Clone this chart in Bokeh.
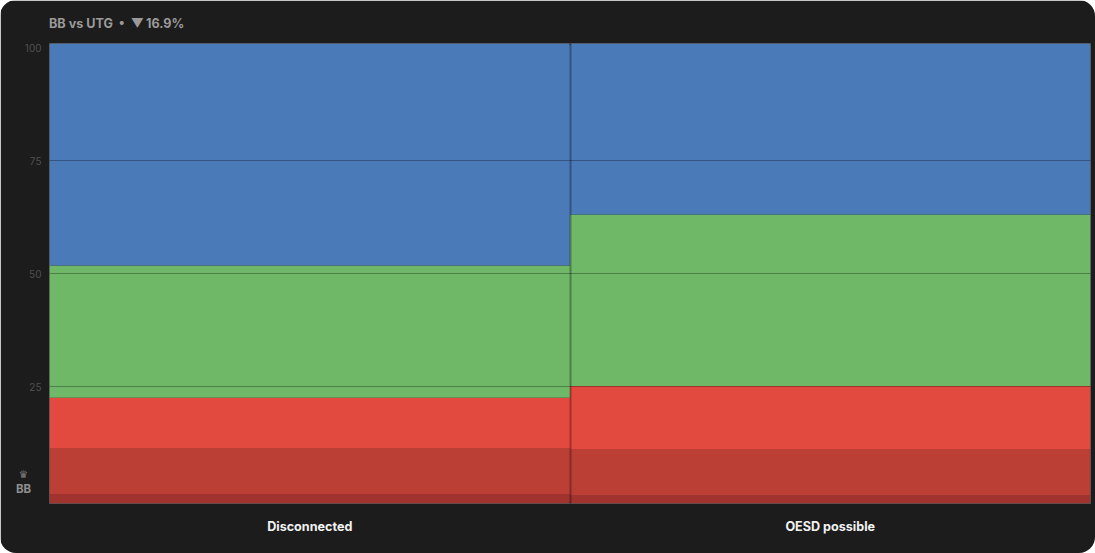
from bokeh.plotting import figure
from bokeh.embed import file_html
from bokeh.resources import INLINE
from bokeh.models import Range1d, FixedTicker, Label, LinearAxis, Grid

categories = ["Disconnected", "OESD possible"]
y_ticks = [25, 50, 75, 100]
y_grid = [25, 50, 75]
y_min = -0.88
y_max = 100.89
# cumulative band limits
limit_darkest = [1.2, 1.0]
limit_dark = [11.4, 11.2]
limit_red = [22.5, 25.1]
limit_green = [51.8, 63.05]
band_colors = ["#a0332d", "#bb3f34", "#e2493f", "#6eb867", "#4a7ab8"]
title_left = "BB vs UTG\u00a0\u00a0•\u00a0\u00a0▼"
title_pct = "16.9%"
crown_icon = "♛"
player = "BB"

BG = "#1c1c1c"
W, H = 1095, 553
FL, FT, FB = 49, 43, 503
HEADER_H = 15

p = figure(width=W, height=H, output_backend="svg", toolbar_location=None,
           x_range=Range1d(0, len(categories)), y_range=Range1d(y_min, y_max),
           min_border_left=FL, min_border_right=5, min_border_top=FT, min_border_bottom=H - FB,
           background_fill_color=BG, border_fill_color=BG, outline_line_color=None,
           x_axis_type=None, y_axis_type=None)
p.styles = {"border-radius": "16px", "overflow": "hidden"}

xs = [i + 0.5 for i in range(len(categories))]
n = len(categories)
bottoms = [[y_min] * n, limit_darkest, limit_dark, limit_red, limit_green]
tops = [limit_darkest, limit_dark, limit_red, limit_green, [y_max] * n]
radii = [(0, 0, 2, 2), 0, 0, 0, (2, 2, 0, 0)]
for b, t, c, r in zip(bottoms, tops, band_colors, radii):
    p.vbar(x=xs, width=1.0, bottom=b, top=t, fill_color=c, line_color=None, border_radius=r)

xax = LinearAxis(ticker=FixedTicker(ticks=xs),
                 major_label_overrides={x: c for x, c in zip(xs, categories)})
xax.axis_line_color = None
xax.major_tick_line_color = None
xax.minor_tick_line_color = None
xax.major_label_text_color = "#f2f2f2"
xax.major_label_text_font = "Inter"
xax.major_label_text_font_style = "bold"
xax.major_label_text_font_size = "12.6px"
xax.major_label_standoff = 9
p.add_layout(xax, "below")

yax = LinearAxis(ticker=FixedTicker(ticks=y_ticks))
yax.axis_line_color = None
yax.major_tick_line_color = None
yax.minor_tick_line_color = None
yax.major_label_text_color = "#505050"
yax.major_label_text_font = "Inter"
yax.major_label_text_font_size = "10px"
yax.major_label_standoff = 2
p.add_layout(yax, "left")

hg = Grid(dimension=1, ticker=FixedTicker(ticks=y_grid), grid_line_color="#000000",
          grid_line_alpha=0.3, grid_line_width=1, level="overlay")
vg = Grid(dimension=0, ticker=FixedTicker(ticks=[1]), grid_line_color="#000000",
          grid_line_alpha=0.3, grid_line_width=2, level="overlay")
p.add_layout(hg)
p.add_layout(vg)

def sx(x):
    return x - FL

def lab(text, x, y, panel_bottom, color, size, side="above", align="left", font="Inter"):
    p.add_layout(Label(x=sx(x), y=panel_bottom - y, x_units="screen", y_units="screen", text=text,
                       text_color=color, text_font=font, text_font_style="bold",
                       text_font_size=size, text_align=align, text_baseline="middle"), side)

lab(title_left, 48.5, 23, FT, "#9a9a9a", "12.6px")
lab(title_pct, 145.5, 23, FT - HEADER_H, "#9a9a9a", "12.6px")
lab(crown_icon, 23, 473, FT - 2 * HEADER_H, "#808080", "10.5px", align="center", font="DejaVu Sans")

lab(player, 23, 487, FB + 33 + 13, "#8f8f8f", "11.5px", side="below", align="center")

open("out.html", "w").write(file_html(p, INLINE))
